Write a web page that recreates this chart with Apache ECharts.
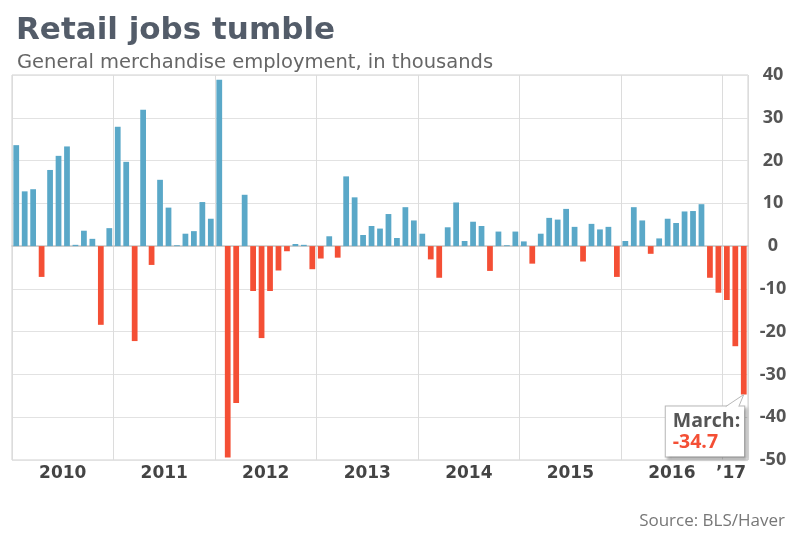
<!DOCTYPE html>
<html>
<head>
<meta charset="utf-8">
<script src="https://cdn.jsdelivr.net/npm/echarts@6/dist/echarts.min.js"></script>
<style>html,body{margin:0;padding:0;background:#fff;}#c{width:794px;height:536px;}</style>
</head>
<body>
<div id="c"></div>
<script>
// Monthly change, Jan 2010 – Mar 2017 (thousands)
const years = [2010, 2011, 2012, 2013, 2014, 2015, 2016, 2017];
const values2010 = [23.6, 12.8, 13.3, -7.2, 17.8, 21.1, 23.3, 0.3, 3.6, 1.7, -18.4, 4.2];
const values2011 = [27.9, 19.7, -22.2, 31.9, -4.4, 15.5, 9.0, 0.2, 2.9, 3.5, 10.3, 6.4];
const values2012 = [38.9, -49.4, -36.7, 12.0, -10.5, -21.5, -10.5, -5.7, -1.2, 0.5, 0.3, -5.4];
const values2013 = [-2.9, 2.3, -2.7, 16.3, 11.4, 2.6, 4.7, 4.1, 7.5, 1.9, 9.1, 6.0];
const values2014 = [2.9, -3.1, -7.4, 4.4, 10.2, 1.2, 5.7, 4.7, -5.8, 3.4, 0.2, 3.4];
const values2015 = [1.1, -4.1, 2.9, 6.6, 6.2, 8.7, 4.5, -3.6, 5.2, 3.9, 4.5, -7.2];
const values2016 = [1.2, 9.1, 6.0, -1.8, 1.8, 6.4, 5.4, 8.1, 8.2, 9.8, -7.4, -10.9];
const values2017 = [-12.6, -23.4, -34.7];
const yearLabels = ['2010', '2011', '2012', '2013', '2014', '2015', '2016', '\u201917'];
const yTicks = [-50, -40, -30, -20, -10, 0, 10, 20, 30, 40];

const allValues = [].concat(values2010, values2011, values2012, values2013, values2014, values2015, values2016, values2017);
const categories = allValues.map((v, i) => years[Math.floor(i / 12)] + '-' + String(i % 12 + 1).padStart(2, '0'));
const lastIdx = allValues.length - 1;

const BLUE = '#5aa8c8', RED = '#f44f35';
const FONT = '"DejaVu Sans", "Open Sans", sans-serif';
const FONT2 = '"Open Sans", "DejaVu Sans", sans-serif';

const chart = echarts.init(document.getElementById('c'));
chart.setOption({
  animation: false,
  backgroundColor: '#fff',
  title: [
    { text: 'Retail jobs tumble', left: 11, top: 10,
      textStyle: { fontFamily: FONT, fontSize: 31, fontWeight: 'bold', color: '#535c69' } },
    { text: 'General merchandise employment, in thousands', left: 12, top: 48,
      textStyle: { fontFamily: FONT, fontSize: 19.5, fontWeight: 'normal', color: '#666' } },
    { text: 'Source: BLS/Haver', right: 4, bottom: 1,
      textStyle: { fontFamily: FONT2, fontSize: 17, fontWeight: 'normal', color: '#777' } }
  ],
  grid: { left: 12, right: 46, top: 75, bottom: 76, show: true, borderColor: '#d0d0d0', borderWidth: 1 },
  xAxis: {
    type: 'category',
    data: categories,
    boundaryGap: true,
    axisLine: { show: true, lineStyle: { color: '#c8c8c8', width: 1.5 } },
    axisTick: { show: false },
    splitLine: { show: true, interval: (i) => i % 12 === 0, lineStyle: { color: '#dcdcdc' } },
    axisLabel: {
      interval: (i) => i % 12 === 6 || i === lastIdx - 1,
      formatter: (v, i) => yearLabels[Math.floor(i / 12)],
      fontFamily: FONT, fontSize: 17, fontWeight: 'bold', color: '#444',
      margin: 5, padding: [0, 8.5, 0, 0]
    }
  },
  yAxis: {
    type: 'value', position: 'right', min: -50, max: 40, interval: 10,
    axisLine: { show: false }, axisTick: { show: false },
    splitLine: { lineStyle: { color: '#e2e2e2' } },
    axisLabel: { fontFamily: FONT2, fontSize: 18, fontWeight: 'bold', color: '#555', align: 'center', margin: 25,
      formatter: (v) => yTicks.includes(v) ? String(v) : '' }
  },
  series: [{
    type: 'bar',
    data: allValues.map(v => ({ value: v, itemStyle: { color: v >= 0 ? BLUE : RED } })),
    barCategoryGap: '32%',
    markPoint: {
      symbol: 'circle', symbolSize: 0,
      data: [{ coord: [lastIdx, allValues[lastIdx]], value: allValues[lastIdx] }],
      label: {
        show: true, position: 'bottom', distance: 12, offset: [-78, 0],
        formatter: (p) => '{a|March:}\n{b|' + p.value + '}',
        backgroundColor: '#fff', borderColor: '#b8b8b8', borderWidth: 1,
        shadowColor: 'rgba(0,0,0,0.3)', shadowBlur: 3, shadowOffsetX: 2, shadowOffsetY: 2,
        padding: [4, 4, 3, 7], align: 'left',
        rich: {
          a: { fontFamily: FONT2, fontSize: 19.5, fontWeight: 'bold', color: '#555', lineHeight: 21.5 },
          b: { fontFamily: FONT2, fontSize: 19.5, fontWeight: 'bold', color: RED, lineHeight: 21.5 }
        }
      }
    }
  }]
});

// speech-bubble pointer from the annotation box to the last bar end
const tip = chart.convertToPixel({ seriesIndex: 0 }, [lastIdx, allValues[lastIdx]]);
chart.setOption({
  graphic: [{
    type: 'polygon', z: 100,
    shape: { points: [[tip[0], tip[1]], [tip[0] - 18, tip[1] + 12.5], [tip[0] - 5, tip[1] + 12.5]] },
    style: { fill: '#fff', stroke: null }
  }, {
    type: 'polyline', z: 101,
    shape: { points: [[tip[0] - 18, tip[1] + 12], [tip[0], tip[1]], [tip[0] - 5, tip[1] + 12]] },
    style: { stroke: '#b8b8b8', lineWidth: 1, fill: null }
  }]
});
</script>
</body>
</html>
